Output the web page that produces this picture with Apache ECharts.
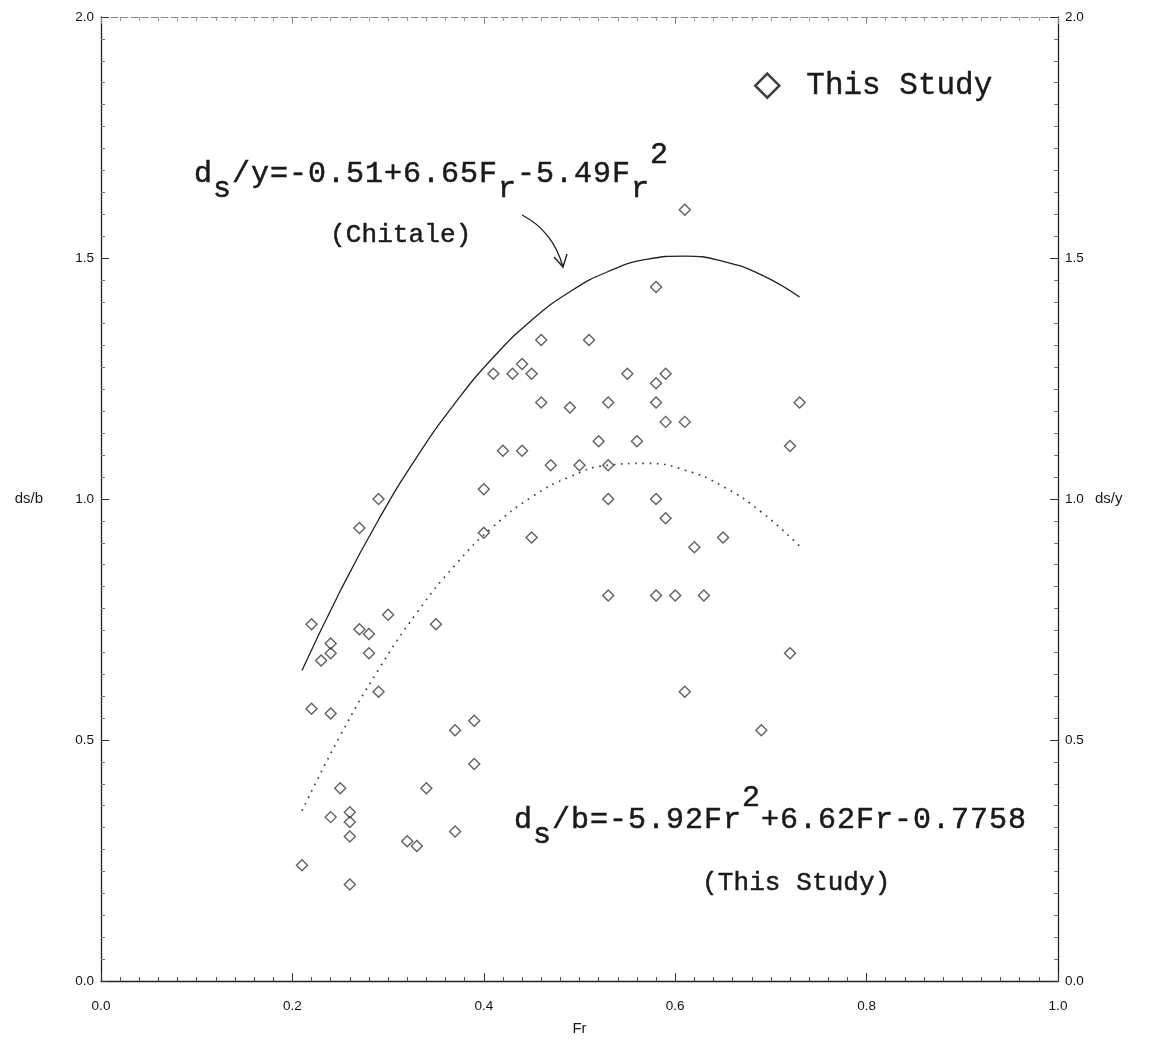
<!DOCTYPE html>
<html>
<head>
<meta charset="utf-8">
<script src="https://cdn.jsdelivr.net/npm/echarts@6/dist/echarts.min.js"></script>
<style>
  html, body { margin: 0; padding: 0; background: #fff; }
  #chart { width: 1150px; height: 1044px; }
</style>
</head>
<body>
<div id="chart"></div>
<script>
// Measured scour depth ratio against Froude number
const frValues = [0.21,0.22,0.22,0.23,0.24,0.24,0.24,0.24,0.25,0.26,0.26,0.26,0.26,0.27,0.27,0.28,0.28,0.29,0.29,0.30,
  0.32,0.33,0.34,0.35,0.37,0.37,0.39,0.39,0.40,0.40,0.41,0.42,0.43,0.44,0.44,0.45,0.45,0.46,0.46,0.47,
  0.49,0.50,0.51,0.52,0.53,0.53,0.53,0.53,0.55,0.56,0.58,0.58,0.58,0.58,0.58,0.59,0.59,0.59,0.60,0.61,
  0.61,0.61,0.62,0.63,0.65,0.69,0.72,0.72,0.73];
const dsValues = [0.24,0.74,0.565,0.665,0.70,0.68,0.555,0.34,0.40,0.35,0.33,0.30,0.20,0.94,0.73,0.72,0.68,1.00,0.60,0.76,
  0.29,0.28,0.40,0.74,0.52,0.31,0.54,0.45,1.02,0.93,1.26,1.10,1.26,1.28,1.10,1.26,0.92,1.33,1.20,1.07,
  1.19,1.07,1.33,1.12,1.20,1.07,1.00,0.80,1.26,1.12,1.44,1.24,1.20,1.00,0.80,1.26,1.16,0.96,0.80,1.60,
  1.16,0.60,0.90,0.80,0.92,0.52,1.11,0.68,1.20];

// Fitted curves sampled along Fr
const fitFr = [0.21,0.25,0.29,0.33,0.37,0.41,0.45,0.49,0.53,0.57,0.61,0.65,0.69,0.73];
const chitaleCurve = [0.644,0.809,0.957,1.087,1.199,1.294,1.371,1.430,1.472,1.497,1.504,1.493,1.465,1.419];
const studyCurve = [0.353,0.509,0.646,0.764,0.863,0.943,1.004,1.046,1.070,1.074,1.060,1.026,0.973,0.902];

// Axis ranges and tick steps
const xRange = [0, 1.0];
const xStep = 0.2;
const yRange = [0, 2.0];
const yStep = 0.5;

const seriesName = 'This Study';

const zip = (a, b) => a.map((v, i) => [v, b[i]]);
const fmt = v => v.toFixed(1);

const ink = '#1a1a1a';
const axisFont = 'Liberation Sans, Arial, sans-serif';
const monoFont = '"Liberation Mono", "Courier New", monospace';

// Lay out monospaced annotation text char by char, with sub/superscript offsets
function monoRun(x0, yMid, adv, size, parts) {
  const out = [];
  let i = 0;
  parts.forEach(([str, dy]) => {
    for (const ch of str) {
      if (ch !== ' ') {
        out.push({
          type: 'text',
          x: x0 + (i + 0.5) * adv,
          y: yMid + dy,
          silent: true,
          style: {
            text: ch, font: size + 'px ' + monoFont, fill: ink,
            stroke: ink, lineWidth: 0.5,
            align: 'center', verticalAlign: 'middle'
          }
        });
      }
      i++;
    }
  });
  return out;
}

const annotations = [].concat(
  monoRun(193.5, 174, 19, 30, [['d', 0], ['s', 15], ['/y=-0.51+6.65F', 0], ['r', 15], ['-5.49F', 0], ['r', 15], ['2', -19]]),
  monoRun(330, 235, 15.7, 26, [['(Chitale)', 0]]),
  monoRun(513.5, 820, 19, 30, [['d', 0], ['s', 15], ['/b=-5.92Fr', 0], ['2', -22], ['+6.62Fr-0.7758', 0]]),
  monoRun(702, 883, 15.7, 26, [['(This Study)', 0]]),
  [
    {
      type: 'bezierCurve', silent: true,
      shape: { x1: 522, y1: 215, x2: 563, y2: 267, cpx1: 553, cpy1: 231 },
      style: { stroke: '#222', lineWidth: 1.4, fill: null }
    },
    {
      type: 'polyline', silent: true,
      shape: { points: [[554, 257], [563, 267], [567, 254]] },
      style: { stroke: '#222', lineWidth: 1.4, fill: null }
    }
  ]
);

const tickCommon = { show: true, inside: true, length: 8, lineStyle: { color: '#333', width: 1 } };
const labelStyle = { formatter: fmt, fontFamily: axisFont, fontSize: 13.5, color: '#111' };

const chart = echarts.init(document.getElementById('chart'), null, { renderer: 'canvas' });
chart.setOption({
  animation: false,
  backgroundColor: '#fff',
  grid: { left: 101, right: 92, top: 17, bottom: 63, containLabel: false },
  legend: {
    data: [seriesName],
    left: 749, top: 65,
    itemWidth: 24, itemHeight: 24,
    icon: 'diamond',
    itemStyle: { color: 'rgba(255,255,255,0)', borderColor: '#111', borderWidth: 2.6 },
    textStyle: { fontFamily: monoFont, fontSize: 31, color: ink, padding: [0, 0, 0, 22],
      textBorderColor: ink, textBorderWidth: 0.4 }
  },
  xAxis: [
    {
      type: 'value', min: xRange[0], max: xRange[1], interval: xStep, position: 'bottom',
      name: 'Fr', nameLocation: 'middle', nameGap: 40,
      nameTextStyle: { fontFamily: axisFont, fontSize: 15, color: ink },
      axisLine: { show: true, onZero: false, lineStyle: { color: '#222', width: 1.3 } },
      axisTick: tickCommon,
      minorTick: { show: true, splitNumber: 10, length: 4, lineStyle: { color: '#555' } },
      axisLabel: Object.assign({ margin: 18 }, labelStyle),
      splitLine: { show: false }
    },
    {
      type: 'value', min: xRange[0], max: xRange[1], interval: xStep, position: 'top',
      axisLine: { show: true, onZero: false, lineStyle: { color: '#888', width: 1, type: [7, 3] } },
      axisTick: { show: true, inside: true, length: 7, lineStyle: { color: '#888' } },
      minorTick: { show: true, splitNumber: 10, length: 4, lineStyle: { color: '#999' } },
      axisLabel: { show: false },
      splitLine: { show: false }
    }
  ],
  yAxis: [
    {
      type: 'value', min: yRange[0], max: yRange[1], interval: yStep, position: 'left',
      name: 'ds/b', nameLocation: 'middle', nameRotate: 0, nameGap: 58,
      nameTextStyle: { fontFamily: axisFont, fontSize: 15, color: ink },
      axisLine: { show: true, onZero: false, lineStyle: { color: '#222', width: 1.3 } },
      axisTick: tickCommon,
      minorTick: { show: true, splitNumber: 11, length: 4, lineStyle: { color: '#777' } },
      axisLabel: Object.assign({ margin: 7 }, labelStyle),
      splitLine: { show: false }
    },
    {
      type: 'value', min: yRange[0], max: yRange[1], interval: yStep, position: 'right',
      name: 'ds/y', nameLocation: 'middle', nameRotate: 0, nameGap: 37,
      nameTextStyle: { fontFamily: axisFont, fontSize: 15, color: ink },
      axisLine: { show: true, onZero: false, lineStyle: { color: '#222', width: 1.3 } },
      axisTick: tickCommon,
      minorTick: { show: true, splitNumber: 11, length: 4, lineStyle: { color: '#777' } },
      axisLabel: Object.assign({ margin: 7 }, labelStyle),
      splitLine: { show: false }
    }
  ],
  series: [
    {
      name: 'Chitale',
      type: 'line',
      data: zip(fitFr, chitaleCurve),
      smooth: true,
      showSymbol: false,
      lineStyle: { color: '#222', width: 1.3 },
      z: 2
    },
    {
      name: 'Fit',
      type: 'line',
      data: zip(fitFr, studyCurve),
      smooth: true,
      showSymbol: false,
      lineStyle: { color: '#444', width: 1.7, type: [1.7, 5.5] },
      z: 2
    },
    {
      name: seriesName,
      type: 'scatter',
      data: zip(frValues, dsValues),
      symbol: 'diamond',
      symbolSize: 11,
      itemStyle: { color: 'rgba(255,255,255,0)', borderColor: '#3a3a3a', borderWidth: 1.4 },
      z: 3
    }
  ],
  graphic: annotations
});
</script>
</body>
</html>
